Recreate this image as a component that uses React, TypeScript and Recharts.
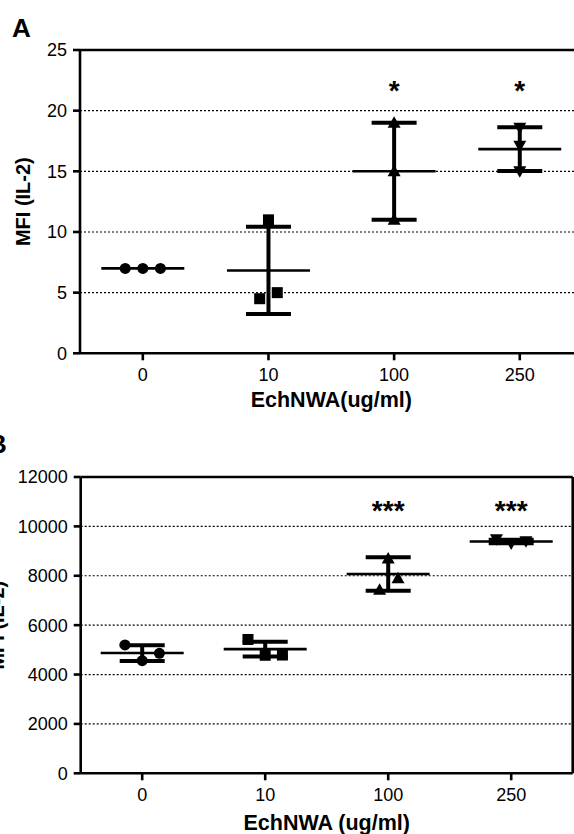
import React from "react";
import { ScatterChart, Scatter, XAxis, YAxis, CartesianGrid, ErrorBar, ReferenceLine } from "recharts";

// dose groups (x axis)
const groups = ["0", "10", "100", "250"];
const groupTicks = [0, 1, 2, 3];

// Panel A: MFI (IL-2), three replicates per dose
const aCircles = [7, 7, 7];
const aSquares = [11, 4.5, 5];
const aTriangles = [19, 15, 11];
const aDownTriangles = [18.6, 17.1, 15];
const aMeans = [7, 6.83, 15, 16.83];
const aSds = [0, 3.6, 4, 1.8];
const aStars = ["", "", "*", "*"];
const aStarLevel = 22.2;
const aTicks = [0, 5, 10, 15, 20, 25];

// Panel B
const bCircles = [5200, 4560, 4860];
const bSquares = [5420, 4780, 4790];
const bTriangles = [8700, 7900, 7430];
const bDownTriangles = [9480, 9310, 9400];
const bMeans = [4870, 5030, 8070, 9390];
const bSds = [320, 300, 680, 70];
const bStars = ["", "", "***", "***"];
const bStarLevel = 10880;
const bTicks = [0, 2000, 4000, 6000, 8000, 10000, 12000];

// horizontal spread of overlapping replicates (category units)
const aSpread = [[-0.14, 0, 0.14], [0, -0.07, 0.07], [0, 0, 0], [0, 0, 0]];
const bSpread = [[-0.14, 0, 0.14], [-0.14, 0, 0.14], [0, 0.08, -0.07], [-0.12, 0, 0.12]];

const K = "#000";
const FONT = "'Liberation Sans', Arial, Helvetica, sans-serif";

const circle = (p: any) => <circle cx={p.cx} cy={p.cy} r={5.5} fill={K} />;
const square = (p: any) => <rect x={p.cx - 5.5} y={p.cy - 5.5} width={11} height={11} fill={K} />;
const triUp = (p: any) => (
  <polygon points={`${p.cx},${p.cy - 6.5} ${p.cx - 6.5},${p.cy + 5} ${p.cx + 6.5},${p.cy + 5}`} fill={K} />
);
const triDown = (p: any) => (
  <polygon points={`${p.cx},${p.cy + 6.5} ${p.cx - 6.5},${p.cy - 5} ${p.cx + 6.5},${p.cy - 5}`} fill={K} />
);
const meanLine = (p: any) => (
  <line x1={p.cx - 41.5} x2={p.cx + 41.5} y1={p.cy} y2={p.cy} stroke={K} strokeWidth={2.6} />
);
const star = (p: any) => (
  <text x={p.cx} y={p.cy + 0.555 * 28} textAnchor="middle" fontSize={28} fontWeight="bold" fontFamily={FONT} fill={K}>
    {p.payload.label}
  </text>
);

const pts = (g: number, vals: number[], spread: number[][]) =>
  vals.map((v, i) => ({ x: g + spread[g][i], y: v }));

function Panel(props: any) {
  const { width, height, margin, yWidth, xHeight, domain, ticks, values, means, sds, stars, starLevel, spread,
    xTitle, xTitleOffset, yLabelOffset } = props;
  const meanData = means.map((m: number, i: number) => ({ x: i, y: m, sd: sds[i] }));
  const starData = stars.map((s: string, i: number) => ({ x: i, y: starLevel, label: s })).filter((d: any) => d.label);
  const shapes = [circle, square, triUp, triDown];
  const axisStyle = { stroke: K, strokeWidth: 2.6 };
  return (
    <ScatterChart width={width} height={height} margin={margin} style={{ fontFamily: FONT }}>
      <CartesianGrid vertical={false} stroke={K} strokeWidth={1.2} strokeDasharray="2 2" />
      <XAxis
        type="number"
        dataKey="x"
        domain={[-0.5, 3.5]}
        ticks={groupTicks}
        tickFormatter={(v: number) => groups[v]}
        allowDataOverflow
        height={xHeight}
        tickSize={7}
        tickMargin={8}
        axisLine={axisStyle}
        tickLine={axisStyle}
        tick={{ fill: K, fontSize: 18, fontFamily: FONT }}
        label={{ value: xTitle, position: "insideBottom", offset: xTitleOffset,
          style: { fill: K, fontSize: 21.5, fontWeight: "bold", fontFamily: FONT } }}
      />
      <YAxis
        type="number"
        dataKey="y"
        domain={domain}
        ticks={ticks}
        allowDataOverflow
        width={yWidth}
        tickSize={7}
        tickMargin={6}
        axisLine={axisStyle}
        tickLine={axisStyle}
        tick={{ fill: K, fontSize: 18, fontFamily: FONT }}
        label={{ value: "MFI (IL-2)", angle: -90, position: "insideLeft", offset: yLabelOffset,
          style: { textAnchor: "middle", fill: K, fontSize: 20, fontWeight: "bold", fontFamily: FONT } }}
      />
      {/* frame: top and right borders */}
      <ReferenceLine y={domain[1]} stroke={K} strokeWidth={2.6} />
      <ReferenceLine x={3.5} stroke={K} strokeWidth={2.6} />
      {values.map((vals: number[], g: number) => (
        <Scatter key={g} data={pts(g, vals, spread)} shape={shapes[g]} isAnimationActive={false} />
      ))}
      <Scatter data={meanData} shape={meanLine} isAnimationActive={false}>
        <ErrorBar dataKey="sd" direction="y" width={22.5} stroke={K} strokeWidth={4} />
      </Scatter>
      <Scatter data={starData} shape={star} isAnimationActive={false} />
    </ScatterChart>
  );
}

export default function App() {
  return (
    <div style={{ position: "fixed", top: 0, left: 0, width: 574, height: 834, overflow: "hidden", background: "#fff" }}>
      <div style={{ position: "absolute", left: 0, top: 0 }}>
        <Panel
          width={600}
          height={420}
          margin={{ top: 50, right: 17.4, left: 0, bottom: 0 }}
          yWidth={80}
          xHeight={66.7}
          domain={[0, 25]}
          ticks={aTicks}
          values={[aCircles, aSquares, aTriangles, aDownTriangles]}
          means={aMeans}
          sds={aSds}
          stars={aStars}
          starLevel={aStarLevel}
          spread={aSpread}
          xTitle="EchNWA(ug/ml)"
          xTitleOffset={13}
          yLabelOffset={22.5}
        />
      </div>
      <div style={{ position: "absolute", left: 0, top: 420 }}>
        <Panel
          width={574}
          height={414}
          margin={{ top: 57, right: 1.3, left: 0, bottom: 0 }}
          yWidth={80.7}
          xHeight={60.7}
          domain={[0, 12000]}
          ticks={bTicks}
          values={[bCircles, bSquares, bTriangles, bDownTriangles]}
          means={bMeans}
          sds={bSds}
          stars={bStars}
          starLevel={bStarLevel}
          spread={bSpread}
          xTitle="EchNWA (ug/ml)"
          xTitleOffset={4.5}
          yLabelOffset={-3}
        />
      </div>
      <svg width={574} height={834} style={{ position: "absolute", left: 0, top: 0, pointerEvents: "none" }}>
        <text x={12} y={36.7} fontSize={26} fontWeight="bold" fontFamily={FONT} fill={K}>A</text>
        <text x={-12} y={453.3} fontSize={26} fontWeight="bold" fontFamily={FONT} fill={K}>B</text>
      </svg>
    </div>
  );
}
